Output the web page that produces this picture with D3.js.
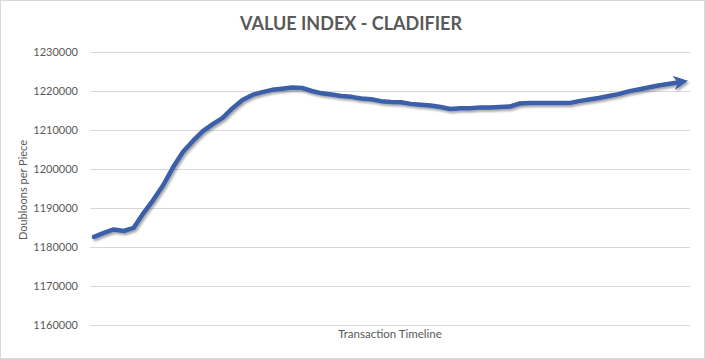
<!DOCTYPE html>
<html>
<head>
<meta charset="utf-8">
<script src="https://cdn.jsdelivr.net/npm/d3@7"></script>
<style>
  html, body { margin: 0; padding: 0; background: #fff; }
  svg { display: block; }
  text { font-family: Lato, "Open Sans", sans-serif; fill: #595959; }
</style>
</head>
<body>
<svg id="chart" width="705" height="359"></svg>
<script>
const title = "VALUE INDEX - CLADIFIER";
const yAxisTitle = "Doubloons per Piece";
const xAxisTitle = "Transaction Timeline";
const yTicks = [1160000, 1170000, 1180000, 1190000, 1200000, 1210000, 1220000, 1230000];
const values = [
  1182600, 1183600, 1184500, 1184100, 1184900, 1188700, 1192100, 1195900, 1200500, 1204400,
  1207200, 1209700, 1211500, 1213100, 1215600, 1217700, 1219000, 1219700, 1220300, 1220600,
  1220900, 1220800, 1220000, 1219400, 1219100, 1218700, 1218500, 1218100, 1217900, 1217400,
  1217200, 1217100, 1216700, 1216500, 1216300, 1215900, 1215400, 1215600, 1215600, 1215800,
  1215800, 1215900, 1216000, 1216800, 1216900, 1216900, 1216900, 1216900, 1216900, 1217400,
  1217800, 1218200, 1218700, 1219200, 1219900, 1220400, 1220900, 1221400, 1221800, 1222200
];
const categories = values.map((_, i) => "T" + (i + 1));

const svg = d3.select("#chart");
const W = 705, H = 359;
const plot = { left: 90, right: 690, top: 52, bottom: 325 };

// outer border
svg.append("rect").attr("x", 0.5).attr("y", 0.5).attr("width", W - 1).attr("height", H - 1)
  .attr("fill", "#fff").attr("stroke", "#d9d9d9");

const x = d3.scalePoint().domain(categories).range([94, 678]);
const y = d3.scaleLinear().domain([1160000, 1230000]).range([plot.bottom, plot.top]);

// gridlines
svg.append("g").selectAll("line").data(yTicks).join("line")
  .attr("x1", plot.left).attr("x2", plot.right)
  .attr("y1", d => Math.round(y(d)) + 0.5).attr("y2", d => Math.round(y(d)) + 0.5)
  .attr("stroke", "#d9d9d9").attr("stroke-width", 1);

// y axis labels
const yAxis = d3.axisLeft(y).tickValues(yTicks).tickFormat(d3.format("d")).tickSize(0).tickPadding(0);
const gy = svg.append("g").attr("transform", "translate(78,0)").call(yAxis);
gy.select(".domain").remove();
gy.selectAll("text").attr("font-family", "Lato, sans-serif").attr("font-size", 11).attr("fill", "#595959");

// title
svg.append("text").attr("x", 351).attr("y", 30).attr("text-anchor", "middle")
  .attr("font-size", 18).attr("font-weight", "bold").text(title);

// axis titles
svg.append("text").attr("transform", "translate(27,190) rotate(-90)").attr("text-anchor", "middle")
  .attr("font-size", 11).text(yAxisTitle);
svg.append("text").attr("x", 390).attr("y", 338).attr("text-anchor", "middle")
  .attr("font-size", 11.5).text(xAxisTitle);

// defs: shadow + arrow
const defs = svg.append("defs");
const f = defs.append("filter").attr("id", "shadow").attr("x", "-10%").attr("y", "-10%").attr("width", "120%").attr("height", "130%");
f.append("feDropShadow").attr("dx", 1.5).attr("dy", 2).attr("stdDeviation", 1.3)
  .attr("flood-color", "#000").attr("flood-opacity", 0.35);
defs.append("marker").attr("id", "arrow").attr("viewBox", "0 0 10 10")
  .attr("refX", 3).attr("refY", 5).attr("markerWidth", 3.2).attr("markerHeight", 3.2)
  .attr("orient", "auto").attr("markerUnits", "strokeWidth")
  .append("path").attr("d", "M0,0 L10,5 L0,10 L3,5 Z").attr("fill", "#3a5ea8");

const line = d3.line().x((d, i) => x(categories[i])).y(d => y(d));
svg.append("path").datum(values)
  .attr("d", line)
  .attr("fill", "none").attr("stroke", "#3a5ea8").attr("stroke-width", 4.5)
  .attr("stroke-linejoin", "round").attr("stroke-linecap", "round")
  .attr("marker-end", "url(#arrow)")
  .attr("filter", "url(#shadow)");
</script>
</body>
</html>
